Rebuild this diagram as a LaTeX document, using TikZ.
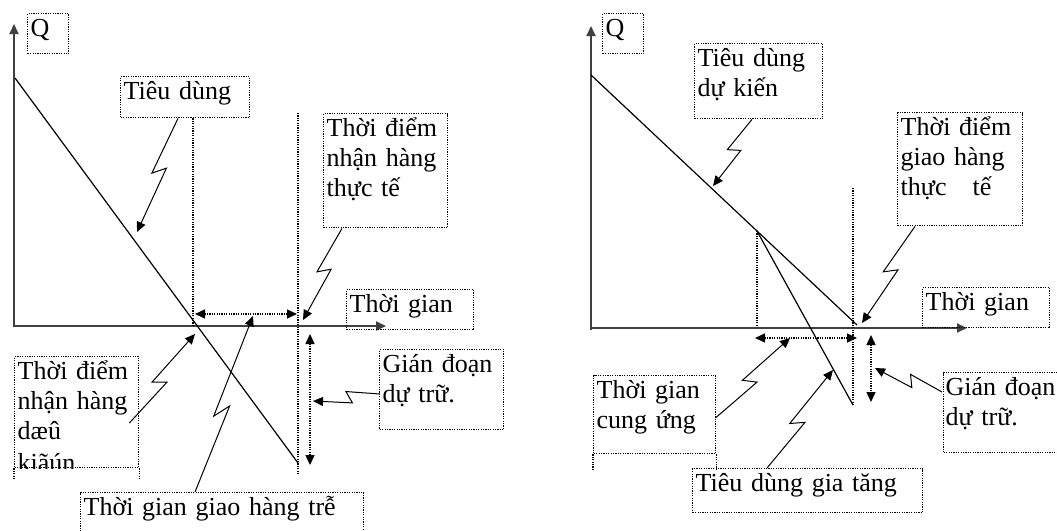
\documentclass[tikz,border=0pt]{standalone}
\usepackage{fontspec}
\setmainfont{Liberation Serif}
\usetikzlibrary{arrows.meta,calc}
\newcommand\lblfont{\fontsize{13}{15}\selectfont}

\begin{document}
\begin{tikzpicture}[x=0.5pt, y=-0.5pt,
  lbl/.style={draw, dash pattern=on 0.6pt off 0.6pt, line width=0.7pt, anchor=north west,
              align=left, inner xsep=1.5pt, inner ysep=1.5pt, text height=10pt,
              font=\lblfont},
  axis/.style={line width=1pt, draw=black!75, -{Triangle[length=5pt,width=4.5pt]}},
  cons/.style={line width=0.6pt},
  guide/.style={dash pattern=on 0.6pt off 0.6pt, line width=0.7pt},
  span/.style={guide, {Triangle[length=5pt,width=4.5pt]}-{Triangle[length=5pt,width=4.5pt]}},
  bolt/.style={line width=0.5pt, -{Triangle[length=5pt,width=4.5pt]},
    to path={-- ($(\tikztostart)!0.5!(\tikztotarget)!3pt!-90:(\tikztotarget)$)
             -- ($(\tikztostart)!0.42!(\tikztotarget)!3pt!90:(\tikztotarget)$)
             -- (\tikztotarget)}}
]
  \useasboundingbox (0,0) rectangle (1057,531);
  \clip (0,0) rectangle (1057,531);

  % left picture
  \draw[axis] (14,327) -- (14,24);
  \draw[axis] (14,326) -- (386,326);
  \draw[cons] (15,78) -- (298,463);

  \node[lbl, text width=17.5pt, text depth=7pt] (qL) at (27,13) {Q};
  \node[lbl, text width=61.5pt, text depth=7.5pt] (tdL) at (120,76) {Tiêu dùng};
  \node[lbl, text width=59pt, text depth=44pt] (tdnL) at (323,113) {Thời điểm\\nhận hàng\\thực tế};
  \node[lbl, text width=60.5pt, text depth=7pt] (tgL) at (346,289) {Thời gian};
  \node[lbl, text width=59pt, text depth=27pt] (gdL) at (379,349) {Gián đoạn\\dự trữ.};
  \begin{scope}
    \clip (13,355) rectangle (139,468);
    \node[lbl, text width=59pt, text depth=42.5pt] (dkL) at (14,356) {Thời điểm\\nhận hàng\\dæû\\[1pt]kiãún};
  \end{scope}
  \node[lbl, text width=138.5pt, text depth=14pt] (ghL) at (80,492) {Thời gian giao hàng trễ};
  \draw[guide] (dkL.south west) -- ++(0,11) (dkL.south east) -- ++(0,11);

  \draw[guide] ($(tdL.south west)+(73,0)$) -- (193,326);
  \draw[guide] (298,113) -- (298,474);
  \draw[span] (195,314) -- (297,314);
  \draw[span] (310,334) -- (310,465);

  \coordinate (s1) at ($(tdL.south west)+(58,0)$);
  \coordinate (c1) at (137,232);
  \coordinate (s2) at ($(tdnL.south west)+(19,0)$);
  \coordinate (c2) at (303,320);
  \coordinate (s3) at ($(gdL.north west)+(1,45)$);
  \coordinate (c3) at (313,401);
  \coordinate (s4) at ($(dkL.north east)+(-10,67)$);
  \coordinate (c4) at (195,334);
  \coordinate (s5) at ($(ghL.north west)+(115,0)$);
  \coordinate (c5) at (253,316);
  \draw[bolt] (s1) to (c1);
  \draw[bolt] (s2) to (c2);
  \draw[bolt] (s3) to (c3);
  \draw[bolt] (s4) to (c4);
  \draw[bolt] (s5) to (c5);

  % right picture
  \draw[axis] (591,330) -- (591,26);
  \draw[axis] (591,328) -- (967,328);
  \draw[cons] (591,75) -- (857,325);
  \coordinate (kink) at (757,231);
  \draw[cons] (kink) -- (853,405);
  \draw[guide] (kink) -- (757,325);
  \draw[guide] (853,188) -- (853,405);
  \draw[span] (755,338) -- (857,338);
  \draw[span] (871,335) -- (871,402);

  \node[lbl, text width=17.5pt, text depth=7pt] (qR) at (602,13) {Q};
  \node[lbl, text width=61pt, text depth=24.5pt] (tddkR) at (694,43) {Tiêu dùng\\dự kiến};
  \node[lbl, text width=59.5pt, text depth=43.5pt] (tdgR) at (897,112) {Thời điểm\\giao hàng\\thực~~~tế};
  \node[lbl, text width=60.5pt, text depth=7pt] (tgR) at (922,287) {Thời gian};
  \node[lbl, text width=55pt, inner xsep=1pt, text depth=27pt] (gdR) at (943,372) {Gián đoạn\\dự trữ.};
  \node[lbl, text width=58pt, text depth=26pt] (tgcuR) at (593,375) {Thời gian\\cung ứng};
  \node[lbl, text width=112pt, text depth=9pt] (tdgtR) at (692,468) {Tiêu dùng gia tăng};
  \draw[guide] (tgcuR.south west) -- ++(0,15) (tgcuR.south east) -- ++(0,15);

  \coordinate (s6) at ($(tddkR.south west)+(58,0)$);
  \coordinate (d1) at (713,186);
  \coordinate (s7) at ($(tdgR.south west)+(18,0)$);
  \coordinate (d2) at (862,323);
  \coordinate (s8) at ($(gdR.north west)+(-1,20)$);
  \coordinate (d3) at (875,368);
  \coordinate (s9) at ($(tgcuR.north east)+(-1,43)$);
  \coordinate (d4) at (790,338);
  \coordinate (s10) at ($(tdgtR.north west)+(75,0)$);
  \coordinate (d5) at (833,370);
  \draw[bolt] (s6) to (d1);
  \draw[bolt] (s7) to (d2);
  \draw[bolt] (s8) to (d3);
  \draw[bolt] (s9) to (d4);
  \draw[bolt] (s10) to (d5);
\end{tikzpicture}
\end{document}
